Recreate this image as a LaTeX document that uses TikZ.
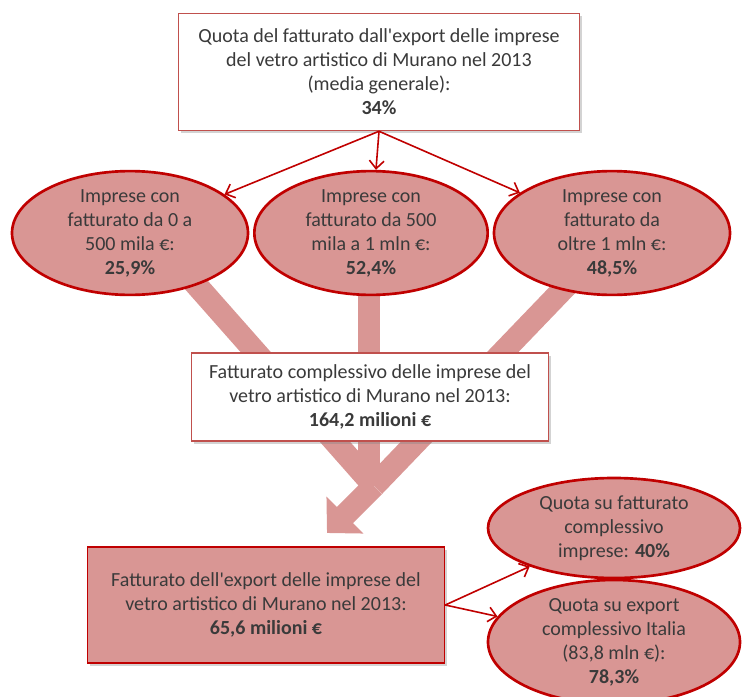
\documentclass[tikz,border=0pt]{standalone}
\usepackage{fontspec}
\setmainfont{Carlito}
\usepackage{xcolor}
\usetikzlibrary{shapes.geometric,arrows.meta,positioning,shadows,backgrounds}

\definecolor{bordo}{HTML}{C00000}
\definecolor{cornice}{HTML}{C0504D}
\definecolor{rosa}{HTML}{D99694}
\definecolor{testo}{HTML}{3A3A3A}

\tikzset{
    testobase/.style={text=testo, align=center, font=\fontsize{15}{18}\selectfont},
    riquadro/.style={testobase, draw=cornice, line width=0.9pt, fill=white,
        drop shadow={shadow xshift=2pt, shadow yshift=-2pt, opacity=0.35}},
    bolla/.style={testobase, ellipse, draw=bordo, line width=2pt, fill=rosa, inner sep=0pt},
    freccia/.style={draw=bordo, line width=1.2pt, -{Straight Barb[length=6pt,width=11pt]}},
    banda/.style={draw=rosa, line width=17pt}
}

\begin{document}
\begin{tikzpicture}[x=0.75pt,y=-0.75pt]
    \useasboundingbox (0,0) rectangle (742,696);

    % Quota export media
    \node[riquadro, minimum width=301pt, minimum height=88pt] (quota) at (379,72)
        {Quota del fatturato dall\textquotesingle export delle imprese\\
         del vetro artistico di Murano nel 2013\\
         (media generale):\\ \textbf{34\%}};

    % Classi di fatturato
    \node[bolla, minimum width=177pt, minimum height=80pt] (classe1) at (130,233)
        {Imprese con\\ fatturato da 0 a\\ 500 mila €:\\ \textbf{25,9\%}};
    \node[bolla, minimum width=175pt, minimum height=80pt] (classe2) at (371,233)
        {Imprese con\\ fatturato da 500\\ mila a 1 mln €:\\ \textbf{52,4\%}};
    \node[bolla, minimum width=177pt, minimum height=80pt] (classe3) at (612,233)
        {Imprese con\\ fatturato da\\ oltre 1 mln €:\\ \textbf{48,5\%}};

    % Fatturato complessivo
    \node[riquadro, minimum width=268pt, minimum height=66pt] (totale) at (370,397)
        {Fatturato complessivo delle imprese del\\
         vetro artistico di Murano nel 2013:\\ \textbf{164,2 milioni €}};

    % Fatturato export
    \node[riquadro, fill=rosa, draw=bordo, minimum width=268pt, minimum height=87pt] (export) at (266,605)
        {Fatturato dell\textquotesingle export delle imprese del\\
         vetro artistico di Murano nel 2013:\\ \textbf{65,6 milioni €}};

    % Quote
    \node[bolla, minimum width=189pt, minimum height=75pt] (quotaimp) at (614,528)
        {Quota su fatturato\\ complessivo\\ imprese: \textbf{40\%}};
    \node[bolla, minimum width=189pt, minimum height=82pt] (quotaita) at (614,642)
        {Quota su export\\ complessivo Italia\\ (83,8 mln €):\\ \textbf{78,3\%}};

    % Bande di flusso
    \coordinate (unione) at (374,486);
    \coordinate (punta) at (327,533);
    \begin{scope}[on background layer]
        \draw[banda] (192,280) -- (unione);
        \draw[banda] (369,285) -- (369,482);
        \draw[banda] (572,280) -- (unione);
        \draw[banda, -{Triangle[length=19pt,width=38pt]}] (unione) -- (punta);
    \end{scope}

    % Frecce
    \draw[freccia] (quota.south) -- (classe1);
    \draw[freccia] (quota.south) -- (classe2);
    \draw[freccia] (quota.south) -- (classe3);
    \draw[freccia] (export.east) -- (quotaimp);
    \draw[freccia] (export.east) -- (quotaita);
\end{tikzpicture}
\end{document}
